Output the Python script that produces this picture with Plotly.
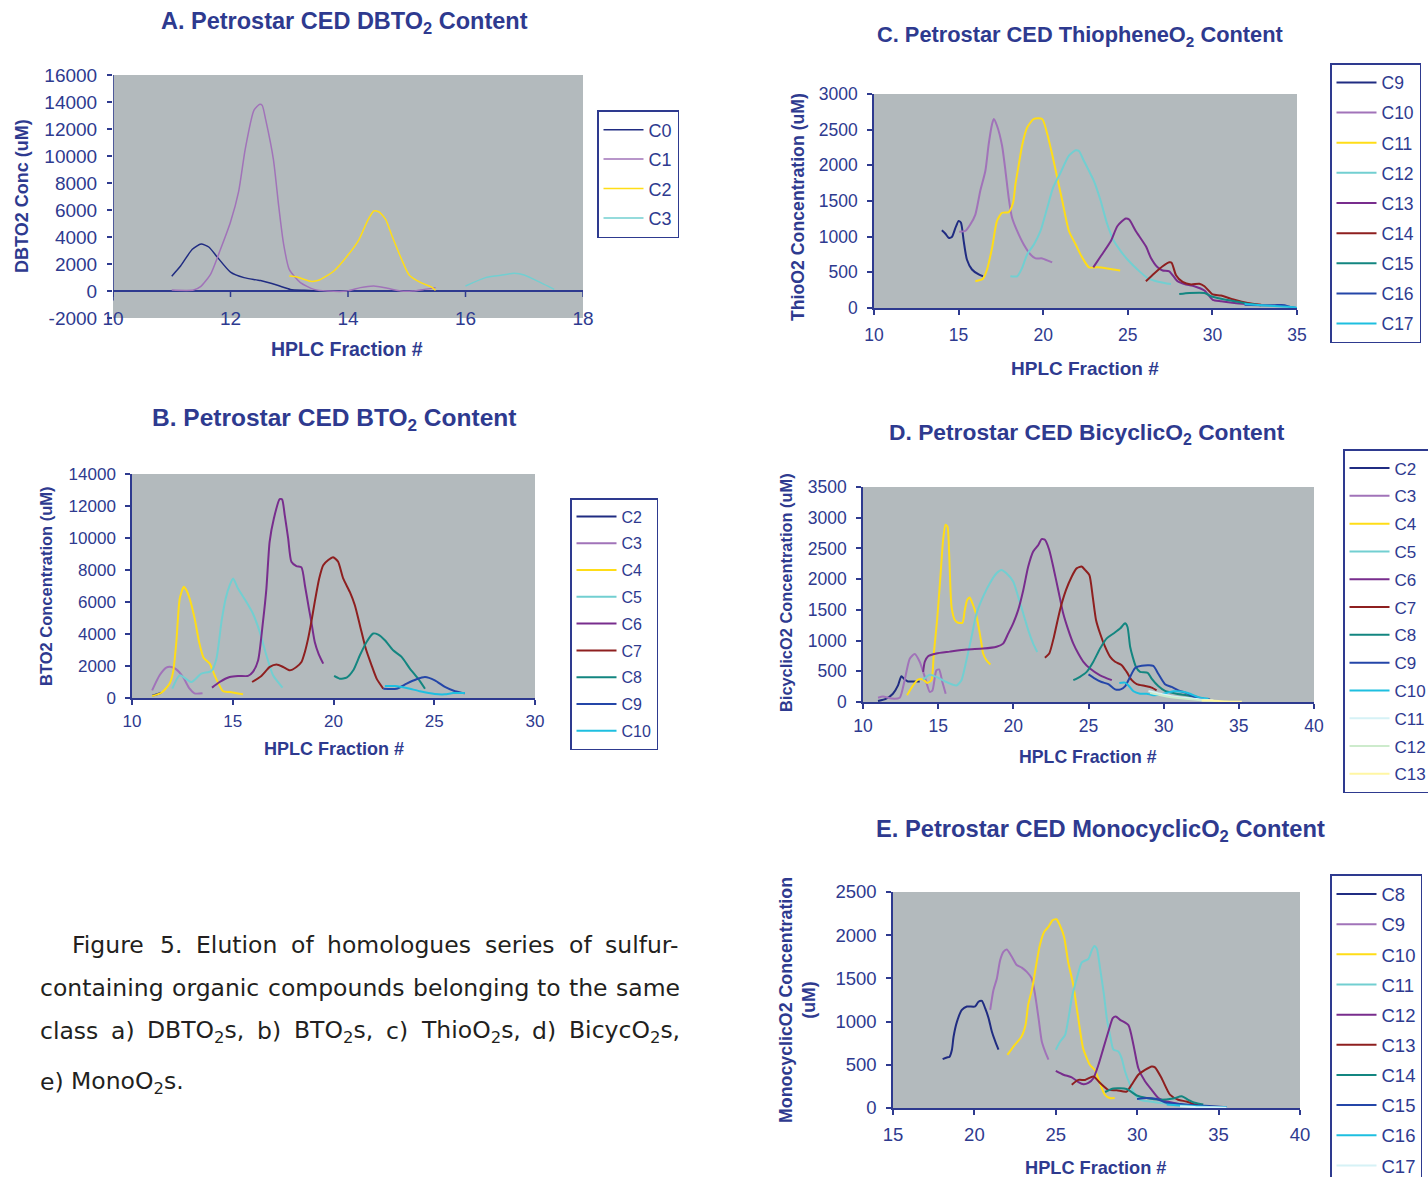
import re
import plotly.graph_objects as go

W, H = 1428, 1177
INK = "#2E3A8F"
PLOT_BG = "#B3BABD"
FONT = "Liberation Sans, Arial, sans-serif"
CAP_FONT = "DejaVu Sans, Verdana, sans-serif"
PALETTE = ["#202C82", "#A173B9", "#FFDD17", "#72CFD1", "#782D8D", "#8E1F1F",
           "#138680", "#2446A8", "#1EBFE0", "#D6F2F6", "#CDEBCC", "#FFF6A3"]

# ---- A. DBTO2 content (fraction, uM) ----
DBT_YTICKS = [-2000, 0, 2000, 4000, 6000, 8000, 10000, 12000, 14000, 16000]
DBT_C0 = [(11.0, 1100), (11.15, 1850), (11.35, 3090), (11.5, 3480), (11.63, 3260), (11.77, 2540),
          (12.0, 1400), (12.23, 990), (12.51, 770), (12.8, 420), (13.02, 120), (13.25, 50), (13.5, 0)]
DBT_C1 = [(11.0, 70), (11.37, 70), (11.49, 320), (11.66, 1230), (11.83, 3090), (12.0, 5110),
          (12.14, 7400), (12.25, 10490), (12.4, 13400), (12.5, 13830), (12.54, 13750), (12.6, 12670),
          (12.73, 9750), (12.82, 6300), (12.9, 3580), (13.0, 1600), (13.19, 620), (13.42, 120),
          (13.65, 0), (13.99, 0), (14.21, 250), (14.44, 370), (14.67, 200), (14.9, 0), (15.1, 0),
          (15.3, 120), (15.49, 250)]
DBT_C2 = [(13.0, 1110), (13.13, 1040), (13.36, 720), (13.5, 790), (13.76, 1480), (14.01, 2720),
          (14.19, 3830), (14.33, 5180), (14.44, 5930), (14.53, 5850), (14.64, 5310), (14.75, 4070),
          (14.9, 2470), (15.04, 1190), (15.24, 620), (15.41, 320), (15.49, 50)]
DBT_C3 = [(16.0, 370), (16.34, 990), (16.6, 1160), (16.83, 1310), (17.0, 1190), (17.28, 620), (17.51, 120)]

# ---- B. BTO2 content ----
BT_C2 = [(11.0, 150), (11.2, 220), (11.45, 330)]
BT_C3 = [(11.0, 480), (11.37, 1420), (11.7, 1900), (11.95, 1940), (12.2, 1790), (12.53, 1310),
         (12.86, 580), (13.1, 290), (13.5, 290)]
BT_C4 = [(11.0, 125), (11.46, 330), (11.87, 900), (12.04, 1630), (12.2, 3500), (12.37, 6220),
         (12.57, 6950), (12.7, 6740), (12.86, 6220), (13.11, 4960), (13.33, 3500), (13.56, 2500),
         (13.86, 2150), (14.1, 1420), (14.52, 420), (14.85, 375), (15.51, 230)]
BT_C5 = [(12.0, 580), (12.37, 1420), (12.95, 1000), (13.44, 1520), (13.94, 1690), (14.19, 2460),
         (14.44, 4760), (14.65, 6220), (14.85, 7050), (15.02, 7470), (15.26, 6840), (15.68, 6000),
         (16.0, 5280), (16.34, 4130), (16.67, 2670), (17.0, 1420), (17.47, 650)]
BT_C6 = [(13.97, 650), (14.35, 1000), (14.85, 1310), (15.26, 1380), (15.76, 1380), (16.0, 1630),
         (16.26, 2360), (16.5, 4760), (16.67, 6840), (16.83, 9760), (17.04, 11220), (17.33, 12430),
         (17.45, 12410), (17.58, 11430), (17.75, 9970), (17.91, 8510), (18.16, 8240), (18.41, 8160),
         (18.58, 7050), (18.78, 5590), (18.9, 4760), (19.07, 3500), (19.27, 2730), (19.49, 2150)]
BT_C7 = [(15.96, 1000), (16.42, 1380), (16.84, 1940), (17.17, 2090), (17.5, 1940), (17.83, 1730),
         (18.16, 1940), (18.41, 2250), (18.58, 2880), (18.74, 3710), (18.9, 4760), (19.07, 6010),
         (19.29, 7470), (19.49, 8300), (19.74, 8620), (19.98, 8800), (20.23, 8510), (20.48, 7470),
         (20.81, 6630), (21.06, 5800), (21.31, 4550), (21.6, 3090), (21.89, 2040), (22.14, 1210), (22.47, 580)]
BT_C8 = [(20.03, 1380), (20.31, 1210), (20.65, 1270), (20.98, 1730), (21.31, 2670), (21.64, 3500),
         (21.97, 4030), (22.22, 3960), (22.55, 3610), (22.96, 2980), (23.38, 2570), (23.79, 1840),
         (24.2, 1210), (24.54, 580)]
BT_C9 = [(22.47, 580), (23.13, 580), (23.63, 900), (24.12, 1170), (24.54, 1310), (25.03, 1100),
         (25.53, 690), (26.03, 420), (26.52, 290)]
BT_C10 = [(22.55, 750), (23.05, 750), (23.63, 630), (24.29, 420), (25.03, 250), (25.53, 230),
          (25.94, 310), (26.52, 310)]

# ---- C. ThiopheneO2 content ----
TH_C9 = [(14.01, 1090), (14.21, 1045), (14.41, 985), (14.6, 995), (14.8, 1115), (15.0, 1220),
         (15.14, 1195), (15.3, 940), (15.49, 680), (15.79, 540), (16.19, 470), (16.44, 445)]
TH_C10 = [(15.04, 1070), (15.4, 1080), (15.69, 1170), (15.99, 1310), (16.28, 1640), (16.58, 1920),
          (16.78, 2300), (16.98, 2580), (17.08, 2650), (17.27, 2555), (17.57, 2275), (17.77, 1920),
          (17.96, 1545), (18.16, 1265), (18.46, 1080), (18.85, 890), (19.25, 750), (19.55, 695),
          (19.94, 695), (20.53, 640)]
TH_C11 = [(15.99, 375), (16.44, 410), (16.68, 540), (16.98, 845), (17.27, 1220), (17.57, 1335),
          (17.96, 1345), (18.22, 1475), (18.36, 1735), (18.56, 2015), (18.75, 2275), (19.05, 2530),
          (19.45, 2650), (19.94, 2650), (20.24, 2440), (20.53, 2155), (20.83, 1830), (21.13, 1500),
          (21.52, 1080), (21.92, 890), (22.31, 705), (22.71, 570), (23.2, 570), (23.79, 555), (24.55, 525)]
TH_C12 = [(18.06, 445), (18.46, 445), (18.75, 560), (19.05, 750), (19.45, 890), (19.84, 1080),
          (20.24, 1405), (20.59, 1690), (21.03, 1900), (21.52, 2135), (21.92, 2210), (22.11, 2200),
          (22.41, 2060), (22.71, 1920), (23.0, 1780), (23.4, 1500), (23.79, 1170), (24.19, 935),
          (24.59, 795), (24.98, 680), (25.57, 540), (26.17, 420), (26.86, 365), (27.55, 335)]
TH_C13 = [(22.96, 570), (23.4, 725), (23.99, 935), (24.39, 1150), (24.88, 1255), (25.08, 1240),
          (25.47, 1080), (26.07, 865), (26.36, 705), (26.76, 570), (27.06, 525), (27.45, 515),
          (27.94, 375), (28.44, 330), (28.93, 305), (29.53, 245), (30.02, 115), (30.51, 95),
          (31.3, 70), (32.09, 55)]
TH_C14 = [(26.07, 375), (26.56, 485), (27.06, 585), (27.45, 640), (27.59, 635), (27.85, 460),
          (28.24, 365), (28.74, 330), (29.23, 340), (29.53, 305), (30.02, 190), (30.51, 175),
          (31.3, 115), (32.09, 70), (32.88, 45)]
TH_C15 = [(28.04, 195), (28.64, 210), (29.53, 210), (29.92, 165), (30.51, 130), (31.3, 95),
          (32.09, 60), (32.88, 40)]
TH_C16 = [(31.9, 45), (32.88, 40), (33.67, 40), (34.27, 40), (34.66, 10), (34.96, 0)]
TH_C17 = [(31.9, 55), (32.88, 40), (33.87, 25), (34.86, 10), (35.0, 0)]

# ---- D. BicyclicO2 content ----
BI_C2 = [(11.0, 15), (11.55, 55), (11.99, 135), (12.33, 270), (12.55, 420), (12.77, 365),
         (12.99, 335), (13.44, 335), (13.77, 335)]
BI_C3 = [(11.0, 70), (11.33, 90), (11.89, 55), (12.44, 70), (12.77, 355), (13.11, 705), (13.44, 780),
         (13.77, 655), (14.11, 410), (14.44, 165), (14.62, 190), (14.88, 515), (15.06, 530),
         (15.28, 325), (15.5, 135)]
BI_C4 = [(12.93, 110), (13.33, 270), (13.66, 365), (14.0, 365), (14.28, 310), (14.55, 355),
         (14.71, 790), (14.93, 1335), (15.15, 2040), (15.33, 2640), (15.49, 2885), (15.62, 2855),
         (15.73, 2420), (15.89, 1550), (16.11, 1335), (16.33, 1290), (16.62, 1290), (16.77, 1495),
         (16.93, 1660), (17.1, 1700), (17.28, 1605), (17.51, 1440), (17.73, 1170), (17.88, 950),
         (17.99, 790), (18.21, 680), (18.48, 610)]
BI_C5 = [(14.0, 365), (14.44, 445), (14.88, 410), (15.55, 325), (16.22, 270), (16.55, 355),
         (16.88, 680), (17.22, 1060), (17.55, 1440), (17.99, 1715), (18.43, 1930), (18.88, 2095),
         (19.21, 2150), (19.54, 2095), (19.99, 1960), (20.32, 1715), (20.66, 1440), (20.99, 1170),
         (21.32, 950), (21.59, 815)]
BI_C6 = [(14.0, 490), (14.11, 655), (14.33, 745), (14.88, 790), (15.77, 820), (16.88, 855),
         (17.99, 870), (18.88, 900), (19.32, 950), (19.66, 1115), (19.99, 1280), (20.32, 1495),
         (20.66, 1820), (20.99, 2205), (21.32, 2450), (21.66, 2555), (21.88, 2650), (22.1, 2640),
         (22.39, 2475), (22.7, 2150), (22.99, 1820), (23.32, 1440), (23.66, 1170), (23.99, 950),
         (24.32, 790), (24.66, 655), (25.1, 545), (25.77, 435), (26.55, 355)]
BI_C7 = [(22.1, 720), (22.39, 790), (22.7, 1060), (23.1, 1495), (23.5, 1820), (23.88, 2040),
         (24.21, 2175), (24.54, 2205), (24.77, 2150), (25.06, 2065), (25.28, 1715), (25.5, 1335),
         (25.77, 1115), (26.1, 900), (26.44, 735), (26.77, 655), (27.21, 600), (27.54, 490),
         (27.88, 355), (28.21, 290), (28.77, 260), (29.2, 235), (29.53, 190)]
BI_C8 = [(23.99, 355), (24.43, 410), (24.88, 490), (25.32, 655), (25.77, 870), (26.21, 1035),
         (26.66, 1115), (27.1, 1195), (27.43, 1280), (27.59, 1225), (27.77, 900), (27.94, 735),
         (28.16, 570), (28.43, 490), (28.94, 475), (29.2, 380), (29.64, 260), (30.09, 180),
         (30.86, 135), (31.53, 110), (32.2, 80)]
BI_C9 = [(25.0, 450), (25.43, 380), (25.87, 325), (26.32, 290), (26.77, 205), (27.14, 205),
         (27.43, 255), (27.77, 410), (28.1, 555), (28.54, 590), (29.31, 590), (29.64, 460),
         (30.09, 290), (30.53, 245), (30.98, 190), (31.53, 145), (31.98, 90), (32.64, 55), (33.09, 40)]
BI_C10 = [(27.05, 310), (27.43, 315), (27.66, 270), (27.99, 175), (28.43, 135), (28.88, 135),
          (29.31, 110), (29.98, 135), (30.64, 175), (31.31, 165), (31.75, 135), (32.31, 80), (32.98, 55)]
BI_C11 = [(28.99, 180), (29.76, 135), (30.64, 90), (31.53, 65), (32.42, 40), (33.31, 25)]
BI_C12 = [(29.1, 145), (30.2, 90), (31.31, 55), (32.64, 25), (33.53, 15)]
BI_C13 = [(32.53, 25), (33.2, 25), (34.09, 10), (35.2, 5)]

# ---- E. MonocyclicO2 content ----
MO_C8 = [(18.05, 565), (18.31, 585), (18.46, 590), (18.62, 675), (18.72, 825), (18.93, 1000),
         (19.23, 1135), (19.54, 1175), (20.05, 1175), (20.25, 1230), (20.46, 1240), (20.66, 1155),
         (20.87, 1040), (21.07, 885), (21.28, 770), (21.48, 675)]
MO_C9 = [(20.97, 1135), (21.17, 1365), (21.38, 1500), (21.58, 1710), (21.79, 1810), (21.99, 1835),
         (22.3, 1750), (22.6, 1655), (22.91, 1625), (23.22, 1575), (23.52, 1500), (23.73, 1310),
         (23.94, 1040), (24.14, 770), (24.34, 655), (24.55, 560)]
MO_C10 = [(22.03, 615), (22.48, 730), (22.89, 825), (23.14, 960), (23.3, 1190), (23.55, 1385),
          (23.76, 1615), (24.02, 1885), (24.29, 2040), (24.54, 2095), (24.81, 2175), (25.04, 2185),
          (25.25, 2115), (25.51, 1980), (25.76, 1690), (26.07, 1425), (26.38, 1040), (26.68, 690),
          (27.09, 500), (27.4, 440), (27.71, 290), (28.01, 155), (28.32, 115), (28.62, 115)]
MO_C11 = [(25.0, 675), (25.27, 770), (25.57, 845), (25.78, 1040), (25.98, 1270), (26.29, 1500),
          (26.6, 1685), (27.0, 1725), (27.21, 1825), (27.37, 1875), (27.52, 1845), (27.72, 1615),
          (27.96, 1310), (28.13, 1040), (28.33, 845), (28.54, 675), (28.84, 655), (29.05, 575),
          (29.25, 425), (29.56, 270), (29.87, 155), (30.17, 95), (30.79, 75), (31.4, 60), (32.01, 40)]
MO_C12 = [(25.0, 430), (25.47, 385), (25.98, 355), (26.39, 300), (26.7, 275), (27.0, 290),
          (27.31, 345), (27.62, 500), (27.92, 690), (28.23, 885), (28.5, 1040), (28.68, 1060),
          (28.95, 1020), (29.46, 960), (29.77, 730), (30.07, 460), (30.48, 310), (30.89, 210),
          (31.3, 115), (31.81, 75), (32.63, 45), (33.45, 20)]
MO_C13 = [(25.98, 270), (26.39, 325), (26.8, 325), (27.31, 365), (27.72, 290), (28.23, 210),
          (28.74, 205), (29.35, 190), (29.66, 270), (30.07, 385), (30.48, 440), (30.89, 480),
          (31.09, 470), (31.5, 345), (32.01, 155), (32.52, 95), (33.03, 75), (33.54, 40), (34.16, 20)]
MO_C14 = [(28.03, 185), (28.54, 225), (29.35, 220), (29.97, 145), (30.58, 115), (31.4, 95),
          (32.21, 110), (32.73, 135), (33.13, 95), (33.54, 60), (34.06, 40)]
MO_C15 = [(29.99, 105), (30.58, 115), (31.19, 105), (31.81, 60), (32.63, 45), (33.65, 30),
          (34.67, 20), (35.49, 10)]
MO_C16 = [(31.81, 40), (32.63, 30), (33.65, 20), (34.67, 10), (35.49, 8)]
MO_C17 = [(32.63, 20), (33.65, 10), (34.67, 8), (35.49, 4)]

CAPTION = [
    "Figure 5.  Elution of homologues series of sulfur-",
    "containing organic compounds belonging to the same",
    "class a) DBTO<sub>2</sub>s, b) BTO<sub>2</sub>s, c) ThioO<sub>2</sub>s, d) BicycO<sub>2</sub>s,",
    "e) MonoO<sub>2</sub>s.",
]

# approximate DejaVu Sans advance widths (em) used to justify the caption lines
GLYPH_EM = {
    " ": .318, "(": .39, ")": .39, ",": .318, "-": .361, ".": .318, "2": .636, "5": .636,
    "A": .684, "B": .686, "C": .698, "D": .770, "E": .632, "F": .575, "M": .863, "O": .787,
    "S": .635, "T": .611, "a": .613, "b": .635, "c": .550, "d": .635, "e": .615, "f": .352,
    "g": .635, "h": .634, "i": .278, "l": .278, "m": .974, "n": .634, "o": .612, "p": .635,
    "r": .411, "s": .521, "t": .392, "u": .634, "y": .592,
}


def hx(px):
    return px / W


def vy(px):
    return 1 - px / H


def word_width(word, size):
    total = 0.0
    for part in re.split(r"(<sub>.*?</sub>)", word):
        if part.startswith("<sub>"):
            total += sum(GLYPH_EM.get(ch, .6) for ch in part[5:-6]) * size * 0.7
        else:
            total += sum(GLYPH_EM.get(ch, .6) for ch in part) * size
    return total


# panel layout: plot box in pixels (left, top, right, bottom), legend (left, top, font, gap)
PANELS = [
    dict(series=[("C0", DBT_C0), ("C1", DBT_C1), ("C2", DBT_C2), ("C3", DBT_C3)],
         xr=[10, 18], xd=2, yr=[-2000, 16000], yd=2000, box=(113, 75, 583, 318),
         lw=1.5, tf=19, xso=0, leg=(597, 110, 18, 3),
         title=("<b>A. Petrostar CED DBTO<sub>2</sub> Content</b>", 344, 22, 23.5),
         xt=("<b>HPLC Fraction #</b>", 347, 349, 19.5),
         yt=("<b>DBTO2 Conc (uM)</b>", 22, 196, 18)),
    dict(series=[("C2", BT_C2), ("C3", BT_C3), ("C4", BT_C4), ("C5", BT_C5), ("C6", BT_C6),
                 ("C7", BT_C7), ("C8", BT_C8), ("C9", BT_C9), ("C10", BT_C10)],
         xr=[10, 30], xd=5, yr=[0, 14000], yd=2000, box=(132, 474, 535, 698),
         lw=2, tf=17, xso=2, leg=(570, 498, 16, 3),
         title=("<b>B. Petrostar CED BTO<sub>2</sub> Content</b>", 334, 419, 24.5),
         xt=("<b>HPLC Fraction #</b>", 334, 749, 18),
         yt=("<b>BTO2 Concentration (uM)</b>", 46, 586, 16.5)),
    dict(series=[("C9", TH_C9), ("C10", TH_C10), ("C11", TH_C11), ("C12", TH_C12), ("C13", TH_C13),
                 ("C14", TH_C14), ("C15", TH_C15), ("C16", TH_C16), ("C17", TH_C17)],
         xr=[10, 35], xd=5, yr=[0, 3000], yd=500, box=(874, 94, 1297, 308),
         lw=2, tf=17.5, xso=5, leg=(1330, 63, 17.5, 4.4),
         title=("<b>C. Petrostar CED ThiopheneO<sub>2</sub> Content</b>", 1080, 36, 21.8),
         xt=("<b>HPLC Fraction #</b>", 1085, 368, 19),
         yt=("<b>ThioO2 Concentration (uM)</b>", 798, 207, 17.7)),
    dict(series=[("C2", BI_C2), ("C3", BI_C3), ("C4", BI_C4), ("C5", BI_C5), ("C6", BI_C6),
                 ("C7", BI_C7), ("C8", BI_C8), ("C9", BI_C9), ("C10", BI_C10), ("C11", BI_C11),
                 ("C12", BI_C12), ("C13", BI_C13)],
         xr=[10, 40], xd=5, yr=[0, 3500], yd=500, box=(863, 487, 1314, 702),
         lw=2, tf=17.5, xso=2, leg=(1343, 449, 17, 2.7),
         title=("<b>D. Petrostar CED BicyclicO<sub>2</sub> Content</b>", 1087, 433, 22.8),
         xt=("<b>HPLC Fraction #</b>", 1088, 757, 17.7),
         yt=("<b>BicyclicO2 Concentration (uM)</b>", 786, 593, 16.4)),
    dict(series=[("C8", MO_C8), ("C9", MO_C9), ("C10", MO_C10), ("C11", MO_C11), ("C12", MO_C12),
                 ("C13", MO_C13), ("C14", MO_C14), ("C15", MO_C15), ("C16", MO_C16), ("C17", MO_C17)],
         xr=[15, 40], xd=5, yr=[0, 2500], yd=500, box=(893, 892, 1300, 1108),
         lw=2, tf=18.5, xso=4, leg=(1330, 874, 18.5, 3.1),
         title=("<b>E. Petrostar CED MonocyclicO<sub>2</sub> Content</b>", 1100, 831, 23.7),
         xt=("<b>HPLC Fraction #</b>", 1095, 1168, 18.2),
         yt=("<b>MonocyclicO2 Concentration<br>(uM)</b>", 797, 1000, 17.8)),
]

fig = go.Figure()
layout = dict(
    width=W, height=H, paper_bgcolor="white", plot_bgcolor=PLOT_BG,
    margin=dict(l=0, r=0, t=0, b=0, autoexpand=False),
    font=dict(family=FONT, color=INK), showlegend=True,
)
annotations, shapes = [], []

for i, p in enumerate(PANELS, start=1):
    sfx = "" if i == 1 else str(i)
    xa, ya = "x" + sfx, "y" + sfx
    lg = "legend" + sfx
    for k, (name, pts) in enumerate(p["series"]):
        fig.add_trace(go.Scatter(
            x=[q[0] for q in pts], y=[q[1] for q in pts], name=name, mode="lines",
            line=dict(color=PALETTE[k], width=p["lw"], shape="spline", smoothing=0.6),
            xaxis=xa, yaxis=ya, legend=lg, legendgroup=f"{i}-{name}", hoverinfo="skip",
        ))
    l, t, r, b = p["box"]
    xax = dict(domain=[hx(l), hx(r)], range=p["xr"], dtick=p["xd"], tick0=0, showgrid=False,
               zeroline=False, showline=True, linecolor=INK, linewidth=1.5, ticks="outside",
               ticklen=5, tickwidth=1.5, tickcolor=INK, anchor=ya, ticklabelstandoff=p["xso"],
               tickfont=dict(size=p["tf"], color=INK, family=FONT))
    yax = dict(domain=[vy(b), vy(t)], range=p["yr"], dtick=p["yd"], tick0=0, showgrid=False,
               zeroline=False, showline=True, linecolor=INK, linewidth=1.5, ticks="outside",
               ticklen=5, tickwidth=1.5, tickcolor=INK, anchor=xa, tickformat="d",
               ticklabelstandoff=6, tickfont=dict(size=p["tf"], color=INK, family=FONT))
    if i == 1:
        # value axis crosses at zero; fraction labels sit at the bottom edge
        xax.update(showline=False, ticks="", anchor="free", position=vy(305))
        yax.update(showline=False, zeroline=True, zerolinecolor=INK, zerolinewidth=1.5,
                   tickmode="array", tickvals=DBT_YTICKS, ticktext=[str(v) for v in DBT_YTICKS])
        shapes.append(dict(type="line", xref=xa, yref=ya, x0=p["xr"][0], x1=p["xr"][0],
                           y0=-700, y1=p["yr"][1], line=dict(color=INK, width=1.5)))
        for tv in range(p["xr"][0], p["xr"][1] + 1, p["xd"]):
            shapes.append(dict(type="line", xref=xa, yref=ya, x0=tv, x1=tv, ysizemode="pixel",
                               yanchor=0, y0=0, y1=-6, line=dict(color=INK, width=1.5)))
    layout["xaxis" + sfx] = xax
    layout["yaxis" + sfx] = yax

    ll, lt, lf, gap = p["leg"]
    layout[lg] = dict(x=hx(ll), y=vy(lt), xanchor="left", yanchor="top", bgcolor="white",
                      bordercolor=INK, borderwidth=1.5, font=dict(size=lf, color=INK, family=FONT),
                      traceorder="grouped", tracegroupgap=gap, itemwidth=40)

    for key, angle in (("title", 0), ("xt", 0), ("yt", -90)):
        txt, cx, cy, fs = p[key]
        annotations.append(dict(text=txt, x=hx(cx), y=vy(cy), xref="paper", yref="paper",
                                showarrow=False, xanchor="center", yanchor="middle",
                                textangle=angle, font=dict(size=fs, color=INK, family=FONT)))

# figure caption, justified between the left margin and x = 678 px (last line ragged)
CAP_SIZE = 23.5
CAP_RIGHT = 678
for n, (line, (lx, ly)) in enumerate(zip(CAPTION, [(70, 945), (38, 988), (38, 1031), (38, 1082)])):
    words = line.split()
    widths = [word_width(w, CAP_SIZE) for w in words]
    if n < len(CAPTION) - 1 and len(words) > 1:
        gap = (CAP_RIGHT - lx - sum(widths)) / (len(words) - 1)
    else:
        gap = GLYPH_EM[" "] * CAP_SIZE
    x = lx
    for w, wd in zip(words, widths):
        annotations.append(dict(text=w, x=hx(x), y=vy(ly), xref="paper", yref="paper",
                                showarrow=False, xanchor="left", yanchor="middle",
                                font=dict(size=CAP_SIZE, color="#231F20", family=CAP_FONT)))
        x += wd + gap

layout["annotations"] = annotations
layout["shapes"] = shapes
fig.update_layout(**layout)
fig.write_html("out.html")
